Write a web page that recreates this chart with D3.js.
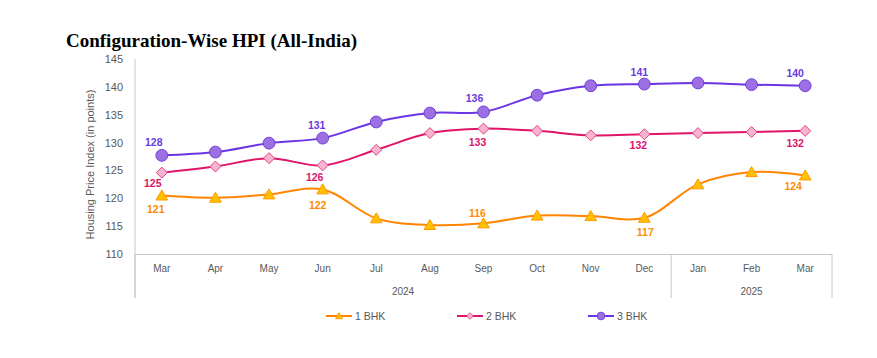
<!DOCTYPE html>
<html>
<head>
<meta charset="utf-8">
<script src="https://cdn.jsdelivr.net/npm/d3@7"></script>
<style>
  body { margin: 0; background: #fff; }
  svg { display: block; }
</style>
</head>
<body>
<svg id="chart" width="877" height="358"></svg>
<script>
// ---- data ----
const months = ["Mar","Apr","May","Jun","Jul","Aug","Sep","Oct","Nov","Dec","Jan","Feb","Mar"];
const years = [{label: "2024", from: 0, to: 9}, {label: "2025", from: 10, to: 12}];
const bhk1 = [120.5, 120.1, 120.7, 121.6, 116.4, 115.2, 115.5, 116.9, 116.8, 116.5, 122.5, 124.7, 124.1];
const bhk2 = [124.6, 125.7, 127.2, 125.9, 128.7, 131.7, 132.5, 132.1, 131.3, 131.5, 131.7, 131.9, 132.1];
const bhk3 = [127.7, 128.3, 129.9, 130.8, 133.7, 135.3, 135.5, 138.5, 140.2, 140.5, 140.7, 140.4, 140.2];
const seriesNames = ["1 BHK", "2 BHK", "3 BHK"];
const yTicks = [110, 115, 120, 125, 130, 135, 140, 145];
const labelled = [0, 3, 6, 9, 12];

// ---- styles / placement ----
const styles = {
  "1 BHK": {line: "#ff8400", fill: "#ffc000", stroke: "#ff9a00", label: "#ff8c00", marker: "triangle"},
  "2 BHK": {line: "#e0146a", fill: "#f7b3cf", stroke: "#e0468a", label: "#d9146a", marker: "diamond"},
  "3 BHK": {line: "#6b35e6", fill: "#9c6fe2", stroke: "#7040d8", label: "#6a3be0", marker: "circle"}
};
const labelOffsets = {
  "1 BHK": [[-6, 13], [-5, 16], [-6, -10], [1, 14], [-12, 11]],
  "2 BHK": [[-9, 10], [-8, 12], [-6, 13], [-6, 11], [-10, 12]],
  "3 BHK": [[-8, -13], [-6, -13], [-9, -14], [-5, -12], [-10, -13]]
};

const svg = d3.select("#chart");
const pLeft = 135, pRight = 832, pTop = 59, pBottom = 254, catBottom = 298;

const x = d3.scaleBand().domain(d3.range(months.length)).range([pLeft, pRight]);
const cx = i => x(i) + x.bandwidth() / 2;
const y = d3.scaleLinear().domain([110, 145]).range([pBottom, pTop]);

// title
svg.append("text")
  .attr("x", 66).attr("y", 47)
  .attr("font-family", "'Liberation Serif', 'Times New Roman', serif")
  .attr("font-weight", "bold").attr("font-size", 19).attr("fill", "#000")
  .text("Configuration-Wise HPI (All-India)");

// y axis
const yAxis = d3.axisLeft(y).tickValues(yTicks).tickSize(0).tickPadding(12).tickFormat(d3.format("d"));
const yg = svg.append("g").attr("transform", `translate(${pLeft},0)`).call(yAxis);
yg.select(".domain").remove();
yg.selectAll("text").attr("font-family", "'Liberation Sans', Arial, sans-serif")
  .attr("font-size", 11).attr("fill", "#595959");

svg.append("line").attr("x1", pLeft).attr("x2", pLeft).attr("y1", pTop).attr("y2", catBottom)
  .attr("stroke", "#c8c8c8").attr("stroke-width", 1);

// y axis title
svg.append("text")
  .attr("transform", `translate(94, ${(pTop + pBottom) / 2 + 8}) rotate(-90)`)
  .attr("text-anchor", "middle")
  .attr("font-family", "'Liberation Sans', Arial, sans-serif")
  .attr("font-size", 11).attr("fill", "#595959")
  .text("Housing Price Index (in points)");

// x axis
const xAxis = d3.axisBottom(x).tickSize(0).tickPadding(11).tickFormat(i => months[i]);
const xg = svg.append("g").attr("transform", `translate(0,${pBottom})`).call(xAxis);
xg.select(".domain").remove();
xg.selectAll("text").attr("font-family", "'Liberation Sans Narrow', 'Liberation Sans', Arial, sans-serif")
  .attr("font-size", 10).attr("fill", "#595959");

svg.append("line").attr("x1", pLeft).attr("x2", pRight).attr("y1", pBottom + 0.5).attr("y2", pBottom + 0.5)
  .attr("stroke", "#c8c8c8").attr("stroke-width", 1.2);

// year group dividers and labels
const dividers = [pLeft].concat(years.map(g => x(g.to) + x.bandwidth()));
svg.selectAll(".div").data(dividers).enter().append("line")
  .attr("x1", d => d).attr("x2", d => d).attr("y1", pBottom).attr("y2", catBottom)
  .attr("stroke", "#c8c8c8").attr("stroke-width", 1);
svg.selectAll(".yr").data(years).enter().append("text")
  .attr("x", g => (x(g.from) + x(g.to) + x.bandwidth()) / 2)
  .attr("y", 295)
  .attr("text-anchor", "middle")
  .attr("font-family", "'Liberation Sans Narrow', 'Liberation Sans', Arial, sans-serif")
  .attr("font-size", 10).attr("fill", "#595959")
  .text(g => g.label);

// markers
function markerPath(type) {
  if (type === "triangle") return "M0,-5.5L5.8,4.5L-5.8,4.5Z";
  if (type === "diamond") return "M0,-5.5L5.5,0L0,5.5L-5.5,0Z";
  return d3.symbol(d3.symbolCircle, 110)();
}

const allSeries = [bhk1, bhk2, bhk3];
const line = d3.line().x((d, i) => cx(i)).y(d => y(d)).curve(d3.curveCatmullRom.alpha(0.5));

allSeries.forEach((vals, si) => {
  const name = seriesNames[si];
  const st = styles[name];
  svg.append("path").datum(vals)
    .attr("d", line).attr("fill", "none")
    .attr("stroke", st.line).attr("stroke-width", 2);
  svg.append("g").selectAll("path").data(vals).enter().append("path")
    .attr("transform", (d, i) => `translate(${cx(i)},${y(d)})`)
    .attr("d", markerPath(st.marker))
    .attr("fill", st.fill).attr("stroke", st.stroke).attr("stroke-width", 1);
});

// data labels
allSeries.forEach((vals, si) => {
  const name = seriesNames[si];
  const st = styles[name];
  svg.append("g").selectAll("text").data(labelled).enter().append("text")
    .attr("x", (i, k) => cx(i) + labelOffsets[name][k][0])
    .attr("y", (i, k) => y(vals[i]) + labelOffsets[name][k][1])
    .attr("text-anchor", "middle").attr("dominant-baseline", "central")
    .attr("font-family", "'Liberation Sans', Arial, sans-serif")
    .attr("font-weight", "bold").attr("font-size", 10.5).attr("fill", st.label)
    .text(i => Math.round(vals[i]));
});

// legend
const legendX = [326, 457, 588];
const lg = svg.append("g");
seriesNames.forEach((name, si) => {
  const st = styles[name];
  const gx = legendX[si], gy = 316;
  lg.append("line").attr("x1", gx).attr("x2", gx + 26).attr("y1", gy).attr("y2", gy)
    .attr("stroke", st.line).attr("stroke-width", 2);
  lg.append("path").attr("transform", `translate(${gx + 13},${gy}) scale(${st.marker === "circle" ? 0.65 : 0.6})`)
    .attr("d", markerPath(st.marker))
    .attr("fill", st.fill).attr("stroke", st.stroke).attr("stroke-width", 1.5);
  lg.append("text").attr("x", gx + 29).attr("y", gy).attr("dominant-baseline", "central")
    .attr("font-family", "'Liberation Sans', Arial, sans-serif")
    .attr("font-size", 10.5).attr("fill", "#595959").text(name);
});
</script>
</body>
</html>
